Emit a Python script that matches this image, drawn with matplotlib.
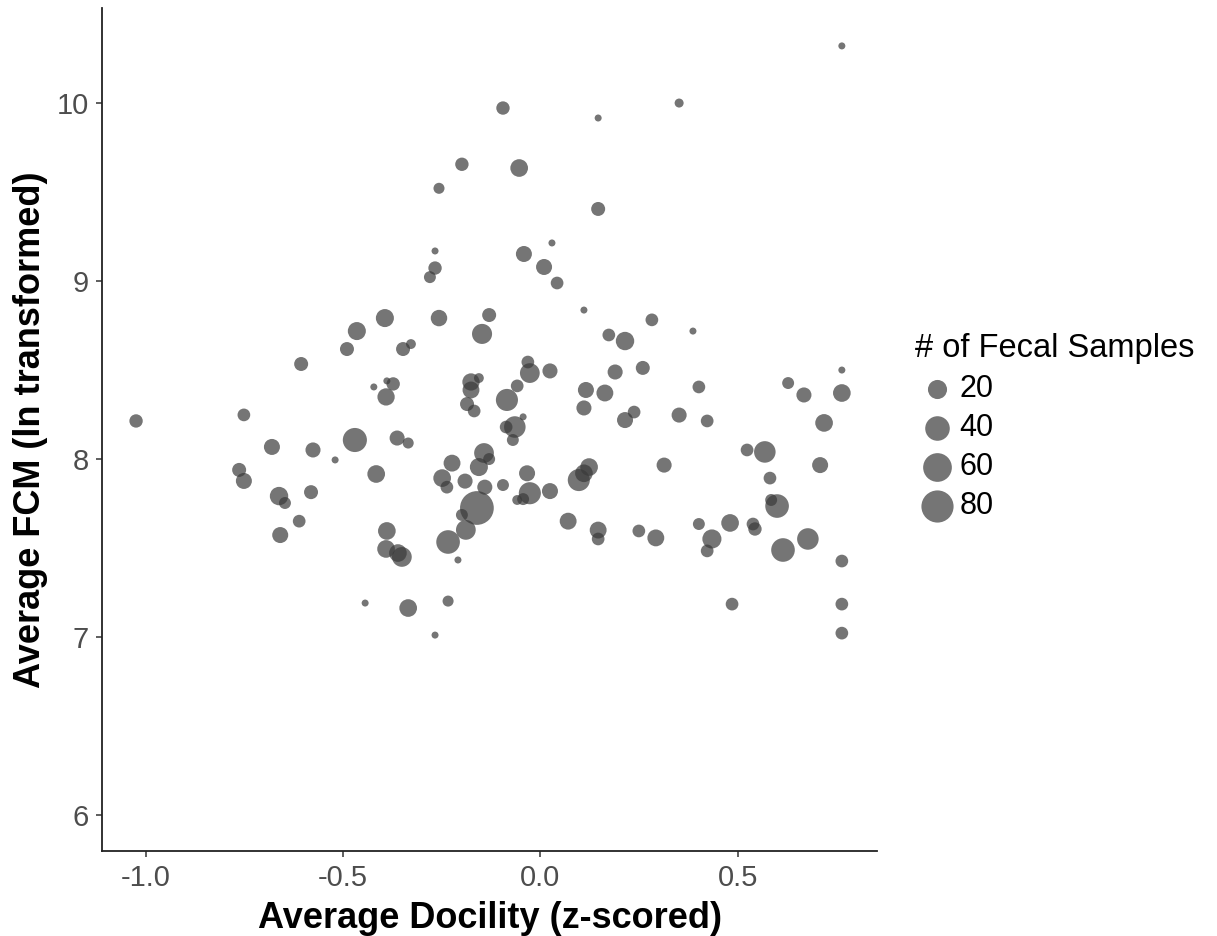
import numpy as np
import matplotlib
matplotlib.use("Agg")
import matplotlib.pyplot as plt

# ---- data ----
docility = [-0.095, -0.199, -0.257, -0.267, -0.267, -0.280, -0.394, -0.257, -0.130, -0.465,
            -0.148, -0.490, -0.348, -0.328, -0.606, -0.422, -0.389, -0.373, -0.391, -0.176,
            -0.156, -0.176, -0.186, -0.168, -0.085, -1.024, -0.751, -0.680, -0.576, -0.470,
            -0.363, -0.335, -0.520, -0.763, -0.751, -0.416, -0.662, -0.647, -0.581, -0.224,
            -0.143, -0.130, -0.156, -0.249, -0.237, -0.191, -0.141, -0.095, -0.161, -0.199,
            -0.189, -0.234, -0.389, -0.391, -0.361, -0.351, -0.611, -0.659, -0.209, -0.444,
            -0.335, -0.234, -0.267, 0.763, 0.146, 0.351, -0.054, 0.146, 0.029, -0.042,
            0.009, 0.042, 0.110, 0.282, 0.386, 0.173, 0.214, -0.032, -0.027, 0.024,
            -0.059, -0.044, -0.065, -0.087, -0.070, 0.189, 0.259, 0.115, 0.163, 0.110,
            0.214, 0.237, 0.351, 0.401, 0.422, 0.763, 0.627, 0.667, 0.763, 0.718,
            -0.034, -0.027, -0.044, -0.059, 0.024, 0.097, 0.123, 0.313, 0.523, 0.568,
            0.581, 0.708, 0.584, 0.599, 0.070, 0.146, 0.146, 0.249, 0.292, 0.401,
            0.480, 0.434, 0.422, 0.538, 0.543, 0.614, 0.677, 0.763, 0.485, 0.763,
            0.763, 0.110]
fcm = [9.970, 9.654, 9.519, 9.167, 9.071, 9.020, 8.790, 8.790, 8.807, 8.717,
       8.701, 8.616, 8.616, 8.644, 8.532, 8.403, 8.437, 8.420, 8.347, 8.431,
       8.453, 8.386, 8.307, 8.268, 8.330, 8.212, 8.246, 8.066, 8.049, 8.105,
       8.116, 8.088, 7.993, 7.937, 7.875, 7.914, 7.790, 7.751, 7.812, 7.975,
       8.032, 7.998, 7.953, 7.891, 7.840, 7.874, 7.840, 7.852, 7.723, 7.684,
       7.600, 7.532, 7.594, 7.493, 7.470, 7.448, 7.649, 7.571, 7.431, 7.189,
       7.161, 7.200, 7.009, 10.319, 9.914, 9.998, 9.633, 9.403, 9.212, 9.150,
       9.077, 8.987, 8.835, 8.780, 8.717, 8.695, 8.661, 8.543, 8.481, 8.493,
       8.409, 8.235, 8.178, 8.178, 8.105, 8.487, 8.510, 8.386, 8.369, 8.285,
       8.217, 8.262, 8.245, 8.403, 8.212, 8.498, 8.425, 8.358, 8.369, 8.201,
       7.918, 7.806, 7.773, 7.768, 7.818, 7.880, 7.953, 7.964, 8.049, 8.038,
       7.891, 7.964, 7.768, 7.734, 7.649, 7.599, 7.549, 7.594, 7.555, 7.633,
       7.639, 7.549, 7.482, 7.633, 7.605, 7.487, 7.549, 7.425, 7.183, 7.183,
       7.020, 7.918]
n_samples = [7, 7, 4, 2, 7, 5, 17, 13, 8, 17,
             23, 8, 8, 3, 8, 2, 2, 7, 15, 15,
             3, 14, 8, 6, 30, 7, 6, 12, 10, 38,
             10, 4, 2, 8, 12, 16, 18, 5, 8, 14,
             22, 5, 17, 16, 6, 10, 10, 5, 90, 5,
             22, 36, 16, 16, 16, 22, 6, 12, 2, 2,
             16, 4, 2, 2, 2, 2.5, 16, 8, 2, 12,
             12, 6, 2, 6, 2, 6, 18, 6, 22, 10,
             6, 2, 28, 6, 5, 10, 8, 12, 14, 10,
             12, 6, 10, 6, 6, 2, 5, 10, 16, 16,
             12, 30, 5, 3, 12, 30, 16, 10, 6, 28,
             6, 12, 5, 36, 14, 14, 6, 6, 14, 5,
             16, 20, 6, 6, 7, 36, 28, 6, 6, 6,
             6, 16]

legend_values = [20, 40, 60, 80]
x_ticks = [-1.0, -0.5, 0.0, 0.5]
x_ticklabels = ["-1.0", "-0.5", "0.0", "0.5"]
y_ticks = [6, 7, 8, 9, 10]
y_ticklabels = ["6", "7", "8", "9", "10"]

DPI = 100
W, H = 1217, 936


def marker_area(n):
    n = np.asarray(n, dtype=float)
    d_px = 7 + 2.85 * np.sqrt(np.clip(n - 2, 0, None))
    d_pt = d_px * 72.0 / DPI
    return d_pt ** 2


plt.rcParams['font.family'] = ['Liberation Sans', 'DejaVu Sans']

fig = plt.figure(figsize=(W / DPI, H / DPI), dpi=DPI)
ax = fig.add_axes([101.7 / W, 1 - 851 / H, (877 - 101.7) / W, (851 - 8) / H])

pt_color = '#3a3a3a'
pt_alpha = 0.7
ax.scatter(docility, fcm, s=marker_area(n_samples), c=pt_color, alpha=pt_alpha,
           linewidths=0, zorder=3)

ax.set_xlim(-1.111, 0.852)
ax.set_ylim(5.796, 10.532)
ax.set_xticks(x_ticks)
ax.set_xticklabels(x_ticklabels)
ax.set_yticks(y_ticks)
ax.set_yticklabels(y_ticklabels)

for side in ['top', 'right']:
    ax.spines[side].set_visible(False)
for side in ['left', 'bottom']:
    ax.spines[side].set_linewidth(1.3)
    ax.spines[side].set_color('#222222')

ax.tick_params(axis='both', length=4, width=1.1, color='#333333',
               labelsize=21, labelcolor='#4d4d4d', pad=5)

fig.text(489.5 / W, 1 - 928 / H, 'Average Docility (z-scored)', fontsize=26,
         fontweight='bold', ha='center', va='baseline', color='black')
fig.text(40 / W, 1 - 430 / H, 'Average FCM (ln transformed)', fontsize=26,
         fontweight='bold', ha='center', va='baseline', rotation=90,
         rotation_mode='anchor', color='black')

handles = [ax.scatter([], [], s=marker_area(v), c=pt_color, alpha=pt_alpha, linewidths=0)
           for v in legend_values]
leg = fig.legend(handles, [str(v) for v in legend_values], title='# of Fecal Samples',
                 loc='upper left', bbox_to_anchor=(894 / W, 1 - 312 / H),
                 frameon=False, fontsize=22, title_fontsize=23.5,
                 handletextpad=0.05, labelspacing=0.3, borderpad=0.2,
                 alignment='left', scatterpoints=1, handlelength=1.4)

fig.savefig('out.png', dpi=DPI)
